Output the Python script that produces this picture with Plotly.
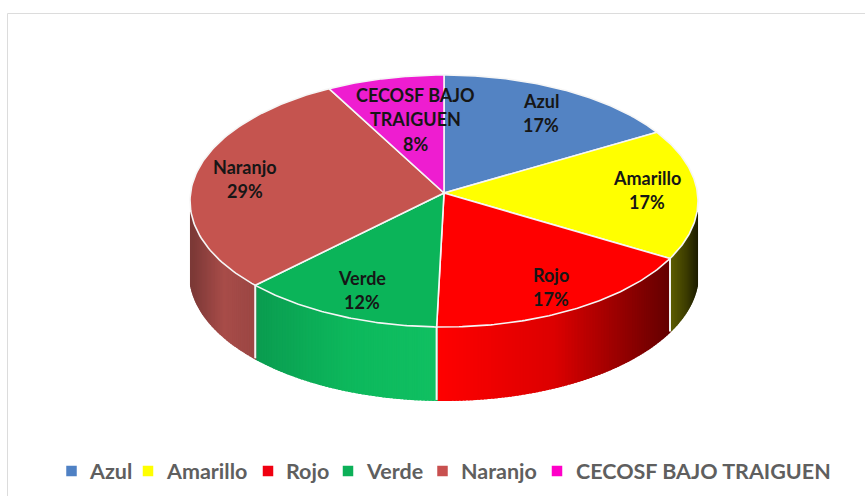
import numpy as np
import plotly.graph_objects as go

# --- data ---
categories = ["Azul", "Amarillo", "Rojo", "Verde", "Naranjo", "CECOSF BAJO TRAIGUEN"]
values = [17, 17, 17, 12, 29, 8]
slice_labels = [["Azul"], ["Amarillo"], ["Rojo"], ["Verde"], ["Naranjo"], ["CECOSF BAJO", "TRAIGUEN"]]
colors = ["#5383c3", "#ffff00", "#ff0000", "#0bb459", "#c5544f", "#ee1dd0"]
legend_colors = ["#4f81c4", "#ffff00", "#f00010", "#0cb058", "#c8504f", "#ff00c8"]

# --- geometry (pixel layout of the drawing) ---
W, H = 865, 496
CX, CY, RX, RY = 444.0, 201.0, 254.0, 126.0
APEX_Y, DEPTH = 193.0, 73.0
LABEL_POS = [(541, 113), (647, 190), (551, 287), (362, 290), (245, 179), (415, 119)]
LINE_GAP = 24.5
LEGEND_Y = 471
LEGEND_MARK_X = [71.5, 148, 268, 348, 442.5, 557]
LEGEND_TEXT_X = [88, 165, 285, 365, 460, 575]
# wall shading: (left colour, mid colour, right colour) along each slice's wall
WALL = {
    1: ((0x5c, 0x5c, 0x00), (0x40, 0x40, 0x00), (0x1c, 0x1c, 0x00)),
    2: ((0xff, 0x00, 0x00), (0xdc, 0x00, 0x00), (0x62, 0x00, 0x00)),
    3: ((0x0a, 0x9c, 0x50), (0x0d, 0xb8, 0x5c), (0x10, 0xc0, 0x62)),
    4: ((0x7c, 0x39, 0x37), (0xa8, 0x4c, 0x49), (0x9a, 0x46, 0x43)),
}


def X(px):
    return (px - CX) / RX


def Y(py):
    return (CY - py) / RY


def perspective(deg):
    """Foreshortening of the tilted pie: true angle -> apparent angle."""
    a = np.radians(deg)
    return deg - 4.2 * np.sin(a) - 1.1 * (1 - np.cos(a))


def rim(deg, drop=0.0):
    a = np.radians(deg)
    return np.sin(a), np.cos(a) - drop


fracs = np.array(values, dtype=float) / sum(values)
edges = perspective(np.concatenate([[0.0], np.cumsum(fracs) * 360.0]))
apex = Y(APEX_Y)
drop = DEPTH / RY

fig = go.Figure()


def mix(c1, c2, c3, t):
    if t < 0.5:
        p, q, s = c1, c2, t * 2
    else:
        p, q, s = c2, c3, (t - 0.5) * 2
    return "rgb(%d,%d,%d)" % tuple(round(p[i] + (q[i] - p[i]) * s) for i in range(3))


# side walls: narrow shaded strips along the visible front of the pie
for i in range(len(values)):
    start, end = max(edges[i], 95.0), min(edges[i + 1], 265.0)
    if end <= start:
        continue
    steps = max(2, int((end - start) / 0.8))
    angs = np.linspace(start, end, steps + 1)
    xs_all = np.sin(np.radians(angs))
    lo, hi = xs_all.min(), xs_all.max()
    # draw from the outside in so that each strip overlaps its neighbour
    for a0, a1 in zip(angs[:-1], angs[1:]):
        seg = np.linspace(a0, a1, 3)
        tx, ty = rim(seg)
        bx, by = rim(seg[::-1], drop)
        t = (np.sin(np.radians((a0 + a1) / 2)) - lo) / (hi - lo)
        col = mix(*WALL[i], t)
        fig.add_trace(go.Scatter(
            x=np.concatenate([tx, bx, tx[:1]]), y=np.concatenate([ty, by, ty[:1]]),
            mode="lines", fill="toself", fillcolor=col,
            line=dict(color=col, width=2), hoverinfo="skip", showlegend=False))

# white separators on the wall
for e in edges[1:]:
    if 95.0 < e < 265.0:
        x0, y0 = rim(e)
        fig.add_trace(go.Scatter(
            x=[x0, x0], y=[y0, y0 - drop], mode="lines",
            line=dict(color="#f4f4f4", width=2), hoverinfo="skip", showlegend=False))

# top faces
for i, cat in enumerate(categories):
    angs = np.linspace(edges[i], edges[i + 1], 90)
    rx_, ry_ = rim(angs)
    fig.add_trace(go.Scatter(
        x=np.concatenate([[0.0], rx_, [0.0]]), y=np.concatenate([[apex], ry_, [apex]]),
        mode="lines", fill="toself", fillcolor=colors[i],
        line=dict(color="#f6f6f6", width=1.6), hoverinfo="text", text=cat, showlegend=False))

# legend swatches
fig.add_trace(go.Scatter(
    x=[X(p) for p in LEGEND_MARK_X], y=[Y(LEGEND_Y)] * len(categories), mode="markers",
    marker=dict(symbol="square", size=10.5, color=legend_colors),
    text=categories, hoverinfo="text", showlegend=False))

annotations = []
# legend texts
for cat, px in zip(categories, LEGEND_TEXT_X):
    annotations.append(dict(
        x=X(px), y=Y(LEGEND_Y), xref="x", yref="y", text=cat, showarrow=False,
        xanchor="left", xshift=-1,
        font=dict(family="Lato", size=21.5, color="#5f5f5f", weight=700)))
# slice labels
for lines, v, (px, py) in zip(slice_labels, values, LABEL_POS):
    rows = lines + ["%d%%" % v]
    for k, row in enumerate(rows):
        annotations.append(dict(
            x=X(px), y=Y(py + (k - (len(rows) - 1) / 2) * LINE_GAP),
            xref="x", yref="y", text=row, showarrow=False,
            font=dict(family="Lato", size=18, color="#161616", weight=700)))

fig.update_layout(
    width=W, height=H, margin=dict(l=0, r=0, t=0, b=0),
    paper_bgcolor="white", plot_bgcolor="white",
    font=dict(family="Lato"),
    xaxis=dict(range=[X(0), X(W)], visible=False, fixedrange=True),
    yaxis=dict(range=[Y(H), Y(0)], visible=False, fixedrange=True),
    annotations=annotations,
    showlegend=False,
    shapes=[dict(type="path", xref="x", yref="y",
                 path="M %f %f L %f %f L %f %f" % (X(W), Y(13.5), X(7.5), Y(13.5), X(7.5), Y(H)),
                 line=dict(color="#dcdcdc", width=1))],
)

fig.write_html("out.html", config=dict(displayModeBar=False),
               post_script="document.body.style.margin='0';")
